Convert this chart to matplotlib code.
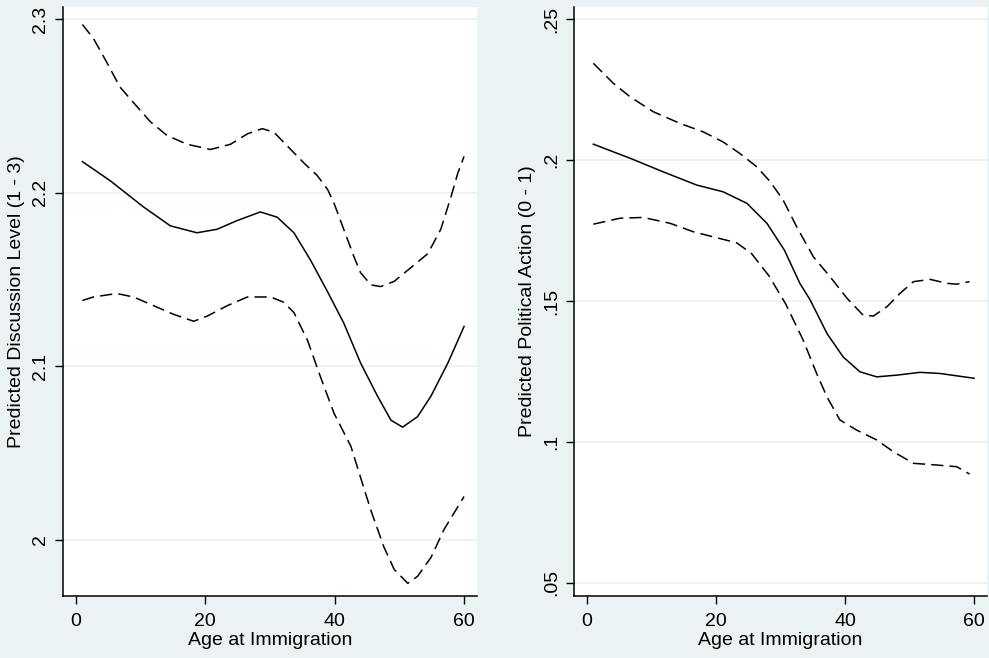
import matplotlib
matplotlib.use('Agg')
import matplotlib.pyplot as plt

plt.rcParams['font.family'] = ['Liberation Sans', 'DejaVu Sans']

# left panel: discussion level
disc_up_x = [1, 2.7, 4.8, 6.8, 8.9, 11.5, 14.1, 17.2, 20.8, 23.9, 26.5, 28.8, 30.6, 33.2, 35.3,
             37.3, 38.9, 39.9, 41.4, 43.0, 44.0, 45.6, 47.1, 49.2, 51.8, 54.4, 56.4, 58.0, 59.0, 60.0]
disc_up_y = [2.297, 2.289, 2.275, 2.261, 2.252, 2.241, 2.233, 2.228, 2.225, 2.228, 2.234, 2.237, 2.235,
             2.225, 2.217, 2.210, 2.202, 2.194, 2.179, 2.163, 2.154, 2.147, 2.146, 2.149, 2.157, 2.165,
             2.179, 2.198, 2.211, 2.221]
disc_fit_x = [1, 5.3, 10.4, 14.6, 18.7, 21.8, 24.9, 28.5, 31.1, 33.7, 36.3, 38.9, 41.4, 44.0, 46.6,
              48.7, 50.5, 52.8, 54.9, 57.5, 60.0]
disc_fit_y = [2.218, 2.207, 2.192, 2.181, 2.177, 2.179, 2.184, 2.189, 2.186, 2.177, 2.161, 2.143,
              2.125, 2.102, 2.083, 2.069, 2.065, 2.071, 2.083, 2.102, 2.123]
disc_lo_x = [1, 2.7, 6.3, 8.9, 12.0, 15.1, 18.2, 20.3, 23.4, 26.5, 30.1, 32.1, 33.7, 35.8, 37.8,
             39.9, 42.5, 44.0, 45.6, 47.6, 49.2, 51.3, 52.8, 54.9, 56.9, 60.0]
disc_lo_y = [2.138, 2.140, 2.142, 2.140, 2.135, 2.130, 2.126, 2.129, 2.135, 2.140, 2.140, 2.137,
             2.131, 2.115, 2.094, 2.073, 2.054, 2.036, 2.017, 1.996, 1.983, 1.975, 1.979, 1.990,
             2.006, 2.025]

# right panel: political action
act_up_x = [1, 4.1, 6.7, 10.3, 14.4, 18.0, 21.1, 23.7, 26.3, 28.4, 30.4, 32.5, 35.1, 37.7, 40.3,
            42.8, 44.4, 46.5, 48.5, 50.6, 53.2, 55.8, 57.3, 59.3]
act_up_y = [0.2344, 0.2273, 0.2225, 0.2172, 0.2131, 0.2101, 0.2065, 0.2024, 0.1977, 0.1924, 0.1859,
            0.1764, 0.1657, 0.1586, 0.1510, 0.1450, 0.1447, 0.1480, 0.1527, 0.1569, 0.1577, 0.1563,
            0.1560, 0.1569]
act_fit_x = [1, 6.7, 11.8, 17.0, 21.1, 24.8, 27.9, 30.6, 33.0, 34.6, 37.2, 39.7, 42.3, 44.9, 48.0,
             51.6, 54.7, 60.0]
act_fit_y = [0.2057, 0.2007, 0.1959, 0.1912, 0.1888, 0.1847, 0.1776, 0.1681, 0.1563, 0.1504, 0.1385,
             0.1302, 0.1249, 0.1231, 0.1237, 0.1247, 0.1243, 0.1226]
act_lo_x = [1, 5.1, 8.7, 12.9, 16.5, 20.6, 23.2, 25.5, 28.2, 30.8, 33.5, 35.6, 37.2, 39.2, 41.8,
            44.9, 47.5, 50.6, 54.2, 57.3, 59.3]
act_lo_y = [0.1773, 0.1794, 0.1797, 0.1776, 0.1746, 0.1722, 0.1707, 0.1669, 0.1590, 0.1490, 0.1362,
            0.1243, 0.1160, 0.1078, 0.1042, 0.1007, 0.0965, 0.0924, 0.0918, 0.0912, 0.0886]

x_ticks = [0, 20, 40, 60]
disc_ticks = [2.0, 2.1, 2.2, 2.3]
disc_labels = ['2', '2.1', '2.2', '2.3']
act_ticks = [0.05, 0.10, 0.15, 0.20, 0.25]
act_labels = ['.05', '.1', '.15', '.2', '.25']

bg = '#EAF2F3'
W, H = 989, 658
fs = 14


def panel(rect, up, fit, lo, ylim, yticks, ylabels, ylab):
    x0, y0, x1, y1 = rect
    ax = fig.add_axes([x0 / W, 1 - y1 / H, (x1 - x0) / W, (y1 - y0) / H])
    ax.set_facecolor('white')
    for t in yticks:
        ax.axhline(t, color='#ECF3F5', linewidth=1.4, zorder=0)
    ax.plot(up[0], up[1], color='black', linewidth=1.1, dashes=(8, 4), solid_joinstyle='round')
    ax.plot(fit[0], fit[1], color='black', linewidth=1.1, solid_joinstyle='round')
    ax.plot(lo[0], lo[1], color='black', linewidth=1.1, dashes=(8, 4), solid_joinstyle='round')
    ax.set_xlim(-2, 62)
    ax.set_ylim(ylim)
    ax.set_xticks(x_ticks)
    ax.set_yticks(yticks)
    ax.set_yticklabels(ylabels, rotation=90, va='center')
    ax.spines['top'].set_visible(False)
    ax.spines['right'].set_visible(False)
    for s in ['left', 'bottom']:
        ax.spines[s].set_linewidth(1.1)
    ax.tick_params(length=6, width=1.0, labelsize=fs)
    ax.tick_params(axis='x', pad=6)
    ax.tick_params(axis='y', pad=4)
    ax.set_xlabel('Age at Immigration', fontsize=fs, labelpad=2)
    ax.set_ylabel(ylab, fontsize=fs, labelpad=5)
    return ax


fig = plt.figure(figsize=(W / 100, H / 100), dpi=100)
fig.patch.set_facecolor(bg)

panel((63, 7, 477, 596), (disc_up_x, disc_up_y), (disc_fit_x, disc_fit_y), (disc_lo_x, disc_lo_y),
      (1.9677, 2.3071), disc_ticks, disc_labels, 'Predicted Discussion Level (1 - 3)')
panel((574, 7, 987, 596), (act_up_x, act_up_y), (act_fit_x, act_fit_y), (act_lo_x, act_lo_y),
      (0.0453, 0.2544), act_ticks, act_labels, 'Predicted Political Action (0 - 1)')

fig.savefig('out.png', dpi=100, facecolor=bg)
